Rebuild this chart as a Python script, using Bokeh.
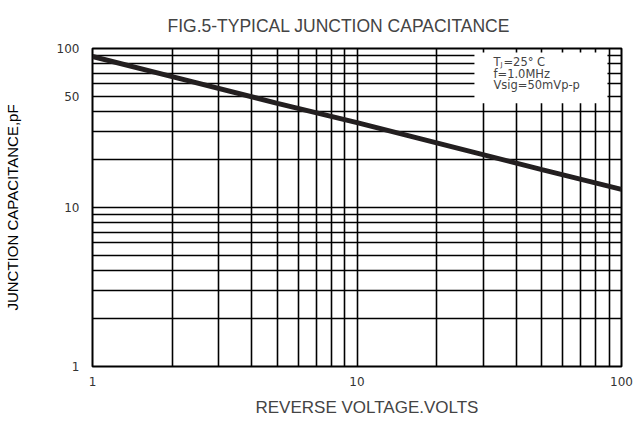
import math
from bokeh.plotting import figure
from bokeh.models import FixedTicker, Label, BoxAnnotation, Title
from bokeh.embed import file_html
from bokeh.resources import INLINE

# ---- data ----
voltage = [1, 2, 5, 10, 20, 50, 100]
capacitance = [89, 66.5, 45.2, 34.2, 25.5, 17.3, 13]

x_major_ticks = [1, 10, 100]
y_major_ticks = [1, 10, 50, 100]
x_grid_ticks = [1, 2, 3, 4, 5, 6, 7, 8, 9, 10, 20, 30, 40, 50, 60, 70, 80, 90, 100]
y_grid_ticks = [1, 2, 3, 4, 5, 6, 7, 8, 9, 10, 20, 30, 40, 50, 60, 70, 80, 90, 100]

title_text = "FIG.5-TYPICAL JUNCTION CAPACITANCE"
x_label_text = "REVERSE VOLTAGE.VOLTS"
y_label_text = "JUNCTION CAPACITANCE,pF"
cond_lines = ["f=1.0MHz", "Vsig=50mVp-p"]

# ---- figure ----
p = figure(width=636, height=424, x_axis_type="log", y_axis_type="log",
           x_range=(1, 100), y_range=(1, 100),
           output_backend="svg", toolbar_location=None,
           min_border_left=92, min_border_right=15,
           min_border_top=48, min_border_bottom=56)
p.outline_line_color = "black"
p.outline_line_width = 2
p.outline_line_alpha = 1
p.background_fill_color = "white"
p.border_fill_color = "white"

p.title.text = title_text
p.title.text_font = "Liberation Sans"
p.title.text_font_size = "17.5px"
p.title.text_font_style = "normal"
p.title.align = "left"
p.title.offset = 75
p.title.standoff = 26

for ax in (p.xaxis[0], p.yaxis[0]):
    ax.axis_line_color = None
    ax.major_tick_line_color = None
    ax.minor_tick_line_color = None
    ax.major_label_text_font = "DejaVu Sans"
    ax.major_label_text_font_size = "12px"
    ax.major_label_text_color = "#333333"
p.xaxis[0].ticker = FixedTicker(ticks=x_major_ticks)
p.yaxis[0].ticker = FixedTicker(ticks=y_major_ticks)
p.xaxis[0].major_label_standoff = 4
p.yaxis[0].major_label_standoff = 7
p.xaxis[0].major_label_overrides = {t: str(t) for t in x_major_ticks}
p.yaxis[0].major_label_overrides = {t: str(t) for t in y_major_ticks}

p.yaxis[0].axis_label = y_label_text
p.yaxis[0].axis_label_text_font = "Liberation Sans"
p.yaxis[0].axis_label_text_font_size = "15px"
p.yaxis[0].axis_label_text_font_style = "normal"
p.yaxis[0].axis_label_text_color = "black"
p.yaxis[0].axis_label_standoff = 33

p.add_layout(Title(text=x_label_text, text_font="Liberation Sans",
                   text_font_size="17px", text_font_style="normal",
                   align="left", offset=163, standoff=15), "below")

p.xgrid[0].ticker = FixedTicker(ticks=x_grid_ticks)
p.ygrid[0].ticker = FixedTicker(ticks=y_grid_ticks)
for g in (p.xgrid[0], p.ygrid[0]):
    g.grid_line_color = "black"
    g.grid_line_width = 1.6
    g.grid_line_alpha = 1

p.line(voltage, capacitance, line_color="#231f20", line_width=5)

# condition box
p.add_layout(BoxAnnotation(left=27.8, right=88.5, bottom=45.3, top=94.4,
                           fill_color="white", fill_alpha=1,
                           line_color=None, level="annotation"))

lab_font = "DejaVu Sans"
fs = "11.5px"
p.add_layout(Label(x=32.8, y=81.7, text="T", text_font=lab_font,
                   text_font_size=fs, text_baseline="middle", text_align="left"))
p.add_layout(Label(x=32.8, y=81.7, x_offset=7, y_offset=-3, text="J", text_font=lab_font,
                   text_font_size="7px", text_baseline="middle", text_align="left"))
p.add_layout(Label(x=32.8, y=81.7, x_offset=10, text="=25° C", text_font=lab_font,
                   text_font_size=fs, text_baseline="middle", text_align="left"))
cond_y = [69.3, 58.7]
for txt, yy in zip(cond_lines, cond_y):
    p.add_layout(Label(x=32.8, y=yy, text=txt, text_font=lab_font,
                       text_font_size=fs, text_baseline="middle", text_align="left"))

open("out.html", "w").write(file_html(p, INLINE))
